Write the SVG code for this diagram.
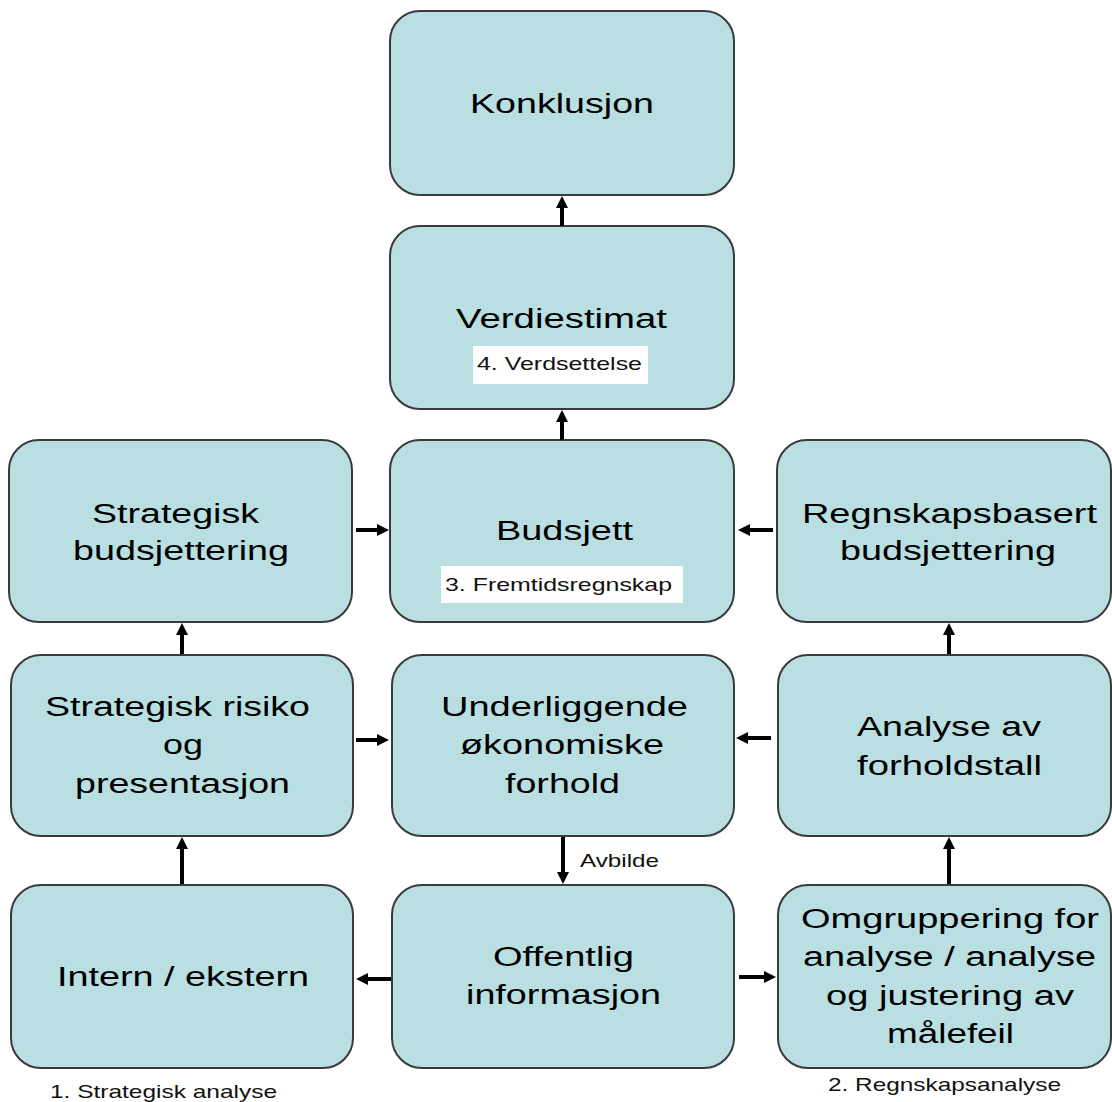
<svg xmlns="http://www.w3.org/2000/svg" width="1112" height="1102" viewBox="0 0 1112 1102">
  <style>
    .box { fill: #BADFE3; stroke: #3a3a3a; stroke-width: 2; }
    .t { font-family: "Liberation Sans", Arial, sans-serif; font-size: 27px; fill: #000; text-anchor: middle; }
    .s { font-family: "Liberation Sans", Arial, sans-serif; font-size: 19px; fill: #111; text-anchor: middle; }
    .tag { fill: #fff; stroke: none; }
    .arrow { stroke: #000; stroke-width: 4; fill: none; marker-end: url(#head); }
  </style>
  <defs>
    <marker id="head" markerUnits="userSpaceOnUse" markerWidth="12" markerHeight="12" viewBox="0 0 12 12" refX="1" refY="6" orient="auto">
      <path d="M0,0 L12,6 L0,12 z" fill="#000"/>
    </marker>
  </defs>
  <rect width="1112" height="1102" fill="#fff"/>

  <g id="konklusjon">
    <rect class="box" x="390" y="11" width="344" height="184" rx="30"/>
    <text class="t" x="562" y="113" textLength="184" lengthAdjust="spacingAndGlyphs">Konklusjon</text>
  </g>

  <g id="verdiestimat">
    <rect class="box" x="390" y="226" width="344" height="183" rx="30"/>
    <text class="t" x="561.5" y="328" textLength="211" lengthAdjust="spacingAndGlyphs">Verdiestimat</text>
    <rect class="tag" x="473" y="346" width="175" height="38"/>
    <text class="s" x="559.5" y="370" textLength="165" lengthAdjust="spacingAndGlyphs">4. Verdsettelse</text>
  </g>

  <g id="strategisk-budsjettering">
    <rect class="box" x="9" y="440" width="343" height="182" rx="30"/>
    <text class="t" x="175.5" y="523" textLength="167" lengthAdjust="spacingAndGlyphs">Strategisk</text>
    <text class="t" x="181" y="560" textLength="216" lengthAdjust="spacingAndGlyphs">budsjettering</text>
  </g>

  <g id="budsjett">
    <rect class="box" x="390" y="440" width="344" height="182" rx="30"/>
    <text class="t" x="564.5" y="540" textLength="137" lengthAdjust="spacingAndGlyphs">Budsjett</text>
    <rect class="tag" x="441" y="566" width="242" height="37"/>
    <text class="s" x="558.5" y="591" textLength="227" lengthAdjust="spacingAndGlyphs">3. Fremtidsregnskap</text>
  </g>

  <g id="regnskapsbasert-budsjettering">
    <rect class="box" x="777" y="440" width="334" height="182" rx="30"/>
    <text class="t" x="949.5" y="523" textLength="295" lengthAdjust="spacingAndGlyphs">Regnskapsbasert</text>
    <text class="t" x="948" y="560" textLength="216" lengthAdjust="spacingAndGlyphs">budsjettering</text>
  </g>

  <g id="strategisk-risiko">
    <rect class="box" x="11" y="655" width="342" height="181" rx="30"/>
    <text class="t" x="177.5" y="716" textLength="265" lengthAdjust="spacingAndGlyphs">Strategisk risiko</text>
    <text class="t" x="183" y="754" textLength="40" lengthAdjust="spacingAndGlyphs">og</text>
    <text class="t" x="182.5" y="793" textLength="215" lengthAdjust="spacingAndGlyphs">presentasjon</text>
  </g>

  <g id="underliggende">
    <rect class="box" x="392" y="655" width="342" height="181" rx="30"/>
    <text class="t" x="564.5" y="716" textLength="247" lengthAdjust="spacingAndGlyphs">Underliggende</text>
    <text class="t" x="562" y="754" textLength="204" lengthAdjust="spacingAndGlyphs">økonomiske</text>
    <text class="t" x="562.5" y="793" textLength="115" lengthAdjust="spacingAndGlyphs">forhold</text>
  </g>

  <g id="analyse-forholdstall">
    <rect class="box" x="778" y="655" width="333" height="181" rx="30"/>
    <text class="t" x="949" y="736" textLength="184" lengthAdjust="spacingAndGlyphs">Analyse av</text>
    <text class="t" x="949.5" y="775" textLength="185" lengthAdjust="spacingAndGlyphs">forholdstall</text>
  </g>

  <g id="intern-ekstern">
    <rect class="box" x="11" y="885" width="342" height="183" rx="30"/>
    <text class="t" x="183" y="986" textLength="252" lengthAdjust="spacingAndGlyphs">Intern / ekstern</text>
  </g>

  <g id="offentlig-informasjon">
    <rect class="box" x="392" y="885" width="342" height="183" rx="30"/>
    <text class="t" x="563.5" y="966" textLength="141" lengthAdjust="spacingAndGlyphs">Offentlig</text>
    <text class="t" x="563.5" y="1004" textLength="195" lengthAdjust="spacingAndGlyphs">informasjon</text>
  </g>

  <g id="omgruppering">
    <rect class="box" x="778" y="885" width="333" height="183" rx="30"/>
    <text class="t" x="950" y="928" textLength="298" lengthAdjust="spacingAndGlyphs">Omgruppering for</text>
    <text class="t" x="949.5" y="966" textLength="293" lengthAdjust="spacingAndGlyphs">analyse / analyse</text>
    <text class="t" x="950" y="1005" textLength="248" lengthAdjust="spacingAndGlyphs">og justering av</text>
    <text class="t" x="950.5" y="1043" textLength="127" lengthAdjust="spacingAndGlyphs">målefeil</text>
  </g>

  <g id="section-labels">
    <text class="s" x="163.5" y="1098" textLength="227" lengthAdjust="spacingAndGlyphs">1. Strategisk analyse</text>
    <text class="s" x="944.5" y="1091" textLength="233" lengthAdjust="spacingAndGlyphs">2. Regnskapsanalyse</text>
  </g>

  <g id="connectors">
    <path class="arrow" d="M562,226 L562,207"/>
    <path class="arrow" d="M562,440 L562,421"/>
    <path class="arrow" d="M356,530 L378,530"/>
    <path class="arrow" d="M773,530 L749,530"/>
    <path class="arrow" d="M182,654 L182,634"/>
    <path class="arrow" d="M949,654 L949,634"/>
    <path class="arrow" d="M356,740 L378,740"/>
    <path class="arrow" d="M771,738 L747,738"/>
    <path class="arrow" d="M563,837 L563,873"/>
    <text class="s" x="619.5" y="867" textLength="79" lengthAdjust="spacingAndGlyphs">Avbilde</text>
    <path class="arrow" d="M182,884 L182,848"/>
    <path class="arrow" d="M949,884 L949,848"/>
    <path class="arrow" d="M391,979 L367,979"/>
    <path class="arrow" d="M739,977 L765,977"/>
  </g>
</svg>
